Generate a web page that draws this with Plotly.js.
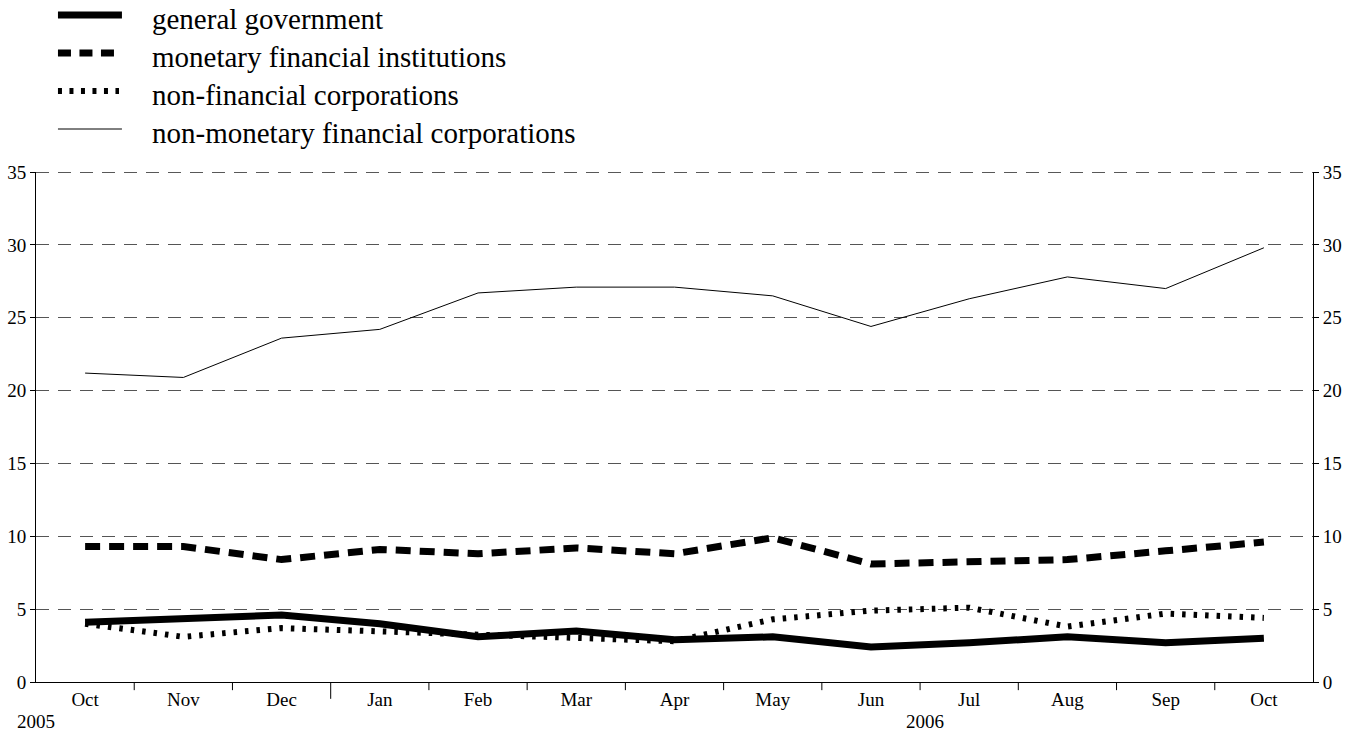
<!DOCTYPE html>
<html>
<head>
<meta charset="utf-8">
<script src="https://cdn.plot.ly/plotly-3.0.1.min.js"></script>
<style>
  html, body { margin: 0; padding: 0; background: #fff; }
  #chart { width: 1355px; height: 733px; }
</style>
</head>
<body>
<div id="chart"></div>
<script>
// Month labels (Oct 2005 – Oct 2006)
const months = ["Oct", "Nov", "Dec", "Jan", "Feb", "Mar", "Apr", "May", "Jun", "Jul", "Aug", "Sep", "Oct"];
const yearLabels = ["2005", "2006"];
const seriesNames = [
  "general government",
  "monetary financial institutions",
  "non-financial corporations",
  "non-monetary financial corporations"
];
const generalGovernment = [4.1, 4.4, 4.6, 4.0, 3.1, 3.5, 2.9, 3.1, 2.4, 2.7, 3.1, 2.7, 3.0];
const monetaryFinancialInst = [9.3, 9.3, 8.4, 9.1, 8.8, 9.2, 8.8, 9.9, 8.1, 8.3, 8.4, 9.0, 9.6];
const nonFinancialCorp = [4.0, 3.1, 3.7, 3.5, 3.2, 3.0, 2.8, 4.3, 4.9, 5.1, 3.8, 4.7, 4.4];
const nonMonetaryFinCorp = [21.2, 20.9, 23.6, 24.2, 26.7, 27.1, 27.1, 26.5, 24.4, 26.3, 27.8, 27.0, 29.8];
const yTicks = [0, 5, 10, 15, 20, 25, 30, 35];

const xIdx = months.map((_, i) => i);
const FONT = "Liberation Serif";

const styles = [
  { color: "#000", width: 7 },
  { color: "#000", width: 7, dash: "15px,9px" },
  { color: "#000", width: 6, dash: "3.5px,8px" },
  { color: "#000", width: 1 }
];
const legendDash = [null, "13px,8.5px", "4px,7.5px", null];
const seriesData = [generalGovernment, monetaryFinancialInst, nonFinancialCorp, nonMonetaryFinCorp];

const traces = seriesData.map((ys, k) => ({
  x: xIdx, y: ys, name: seriesNames[k], mode: "lines", line: styles[k], showlegend: false
}));
traces.push({ x: [], y: [], yaxis: "y2", showlegend: false, hoverinfo: "skip" });

const layout = {
  width: 1355, height: 733,
  margin: { l: 36, r: 42, t: 172, b: 51, pad: 0, autoexpand: false },
  paper_bgcolor: "#fff", plot_bgcolor: "#fff",
  font: { family: FONT, size: 19, color: "#000" },
  showlegend: false,
  xaxis: {
    range: [-0.5, 12.5],
    tickmode: "array", tickvals: xIdx, ticktext: months,
    ticks: "", showgrid: false, zeroline: false,
    showline: true, linecolor: "#000", linewidth: 1,
    tickfont: { family: FONT, size: 19, color: "#000" }
  },
  yaxis: {
    range: [0, 35], tickmode: "array", tickvals: yTicks,
    ticks: "outside", ticklen: 5, tickcolor: "#000",
    showline: true, linecolor: "#000", linewidth: 1,
    showgrid: true, gridcolor: "#555", gridwidth: 1, griddash: "13px,9px",
    zeroline: false, tickfont: { family: FONT, size: 19, color: "#000" }
  },
  yaxis2: {
    overlaying: "y", side: "right", anchor: "x",
    range: [0, 35], tickmode: "array", tickvals: yTicks,
    ticks: "outside", ticklen: 5, tickcolor: "#000",
    showline: true, linecolor: "#000", linewidth: 1,
    showgrid: false, zeroline: false, tickfont: { family: FONT, size: 19, color: "#000" }
  },
  shapes: [],
  annotations: [
    { text: yearLabels[0], x: -0.5, xref: "x", y: -0.078, yref: "paper",
      xanchor: "center", yanchor: "middle", showarrow: false,
      font: { family: FONT, size: 19, color: "#000" } },
    { text: yearLabels[1], x: 8.55, xref: "x", y: -0.078, yref: "paper",
      xanchor: "center", yanchor: "middle", showarrow: false,
      font: { family: FONT, size: 19, color: "#000" } }
  ]
};

// Legend (drawn in paper coordinates above the plot)
const legSymX0 = 0.0172;
const legSymXEnd = [0.0673, 0.0626, 0.0650, 0.0673];
const legRowY = [1.3078, 1.2333, 1.1588, 1.0843];
const legTextX = 0.0893;
for (let k = 0; k < seriesNames.length; k++) {
  layout.shapes.push({
    type: "line", xref: "paper", yref: "paper",
    x0: legSymX0, x1: legSymXEnd[k], y0: legRowY[k], y1: legRowY[k],
    line: { color: "#000", width: styles[k].width, dash: legendDash[k] || "solid" }
  });
  layout.annotations.push({
    text: seriesNames[k], x: legTextX, xref: "paper", y: legRowY[k] - 0.008, yref: "paper",
    xanchor: "left", yanchor: "middle", showarrow: false,
    font: { family: FONT, size: 29, color: "#000" }
  });
}

// Boundary ticks between months
for (let i = 0; i < months.length - 1; i++) {
  const b = i + 0.5;
  const long = (months[i] === "Dec" && months[i + 1] === "Jan");
  layout.shapes.push({
    type: "line", xref: "x", yref: "paper", x0: b, x1: b,
    y0: 0, y1: long ? -0.033 : -0.016,
    line: { color: "#000", width: 1 }
  });
}
// Top dashed border at 35
layout.shapes.push({
  type: "line", xref: "paper", yref: "y", x0: 0, x1: 1, y0: 35, y1: 35,
  line: { color: "#222", width: 1.5, dash: "13px,9px" }
});

Plotly.newPlot("chart", traces, layout, { displayModeBar: false, staticPlot: true });
</script>
</body>
</html>
